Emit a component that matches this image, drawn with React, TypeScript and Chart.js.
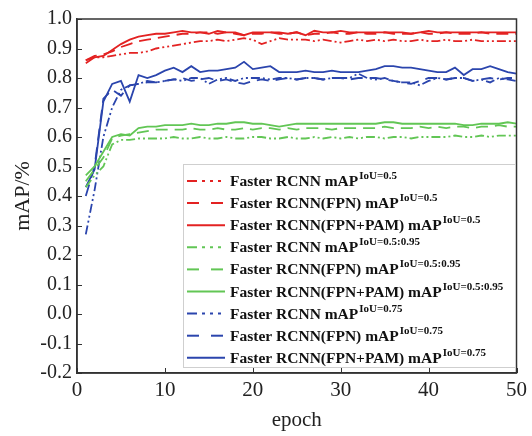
import React, { useEffect, useRef } from 'react';
import { Chart, registerables } from 'chart.js';

Chart.register(...registerables);

const epochs = [1, 2, 3, 4, 5, 6, 7, 8, 9, 10, 11, 12, 13, 14, 15, 16, 17, 18, 19, 20, 21, 22, 23, 24, 25, 26, 27, 28, 29, 30, 31, 32, 33, 34, 35, 36, 37, 38, 39, 40, 41, 42, 43, 44, 45, 46, 47, 48, 49, 50];

const redDashDot = [0.86, 0.87, 0.87, 0.875, 0.88, 0.885, 0.885, 0.89, 0.9, 0.905, 0.91, 0.915, 0.92, 0.925, 0.925, 0.93, 0.925, 0.93, 0.935, 0.93, 0.915, 0.925, 0.935, 0.93, 0.93, 0.93, 0.925, 0.93, 0.925, 0.92, 0.925, 0.93, 0.925, 0.93, 0.925, 0.93, 0.925, 0.925, 0.93, 0.925, 0.925, 0.93, 0.925, 0.925, 0.93, 0.925, 0.925, 0.925, 0.925, 0.925];
const redDashed = [0.86, 0.875, 0.88, 0.89, 0.905, 0.915, 0.925, 0.93, 0.935, 0.94, 0.945, 0.95, 0.95, 0.955, 0.955, 0.95, 0.955, 0.95, 0.945, 0.95, 0.95, 0.955, 0.95, 0.95, 0.955, 0.945, 0.95, 0.95, 0.955, 0.95, 0.95, 0.955, 0.95, 0.95, 0.955, 0.95, 0.95, 0.95, 0.955, 0.95, 0.95, 0.955, 0.95, 0.95, 0.95, 0.955, 0.95, 0.95, 0.95, 0.95];
const redSolid = [0.85, 0.87, 0.875, 0.895, 0.915, 0.93, 0.94, 0.945, 0.95, 0.95, 0.955, 0.96, 0.955, 0.955, 0.95, 0.96, 0.955, 0.955, 0.945, 0.955, 0.955, 0.955, 0.955, 0.95, 0.955, 0.945, 0.96, 0.955, 0.955, 0.96, 0.955, 0.955, 0.955, 0.955, 0.955, 0.955, 0.955, 0.95, 0.955, 0.96, 0.955, 0.955, 0.955, 0.955, 0.955, 0.955, 0.955, 0.955, 0.955, 0.955];

const greenDashDot = [0.43, 0.47, 0.5, 0.575, 0.59, 0.59, 0.595, 0.595, 0.595, 0.595, 0.6, 0.595, 0.595, 0.6, 0.595, 0.595, 0.6, 0.595, 0.595, 0.6, 0.6, 0.595, 0.595, 0.6, 0.595, 0.595, 0.6, 0.595, 0.6, 0.595, 0.6, 0.595, 0.6, 0.6, 0.595, 0.6, 0.6, 0.595, 0.6, 0.6, 0.6, 0.6, 0.605, 0.6, 0.6, 0.605, 0.6, 0.605, 0.605, 0.605];
const greenDashed = [0.45, 0.49, 0.53, 0.595, 0.605, 0.61, 0.615, 0.62, 0.625, 0.625, 0.625, 0.625, 0.63, 0.625, 0.625, 0.63, 0.625, 0.625, 0.63, 0.625, 0.63, 0.63, 0.625, 0.63, 0.625, 0.63, 0.63, 0.63, 0.625, 0.63, 0.63, 0.63, 0.63, 0.63, 0.635, 0.63, 0.63, 0.63, 0.635, 0.63, 0.635, 0.63, 0.635, 0.635, 0.63, 0.635, 0.635, 0.64, 0.635, 0.635];
const greenSolid = [0.47, 0.5, 0.55, 0.6, 0.61, 0.605, 0.63, 0.635, 0.635, 0.64, 0.64, 0.64, 0.645, 0.64, 0.64, 0.645, 0.645, 0.65, 0.65, 0.645, 0.645, 0.64, 0.635, 0.64, 0.645, 0.645, 0.645, 0.645, 0.645, 0.645, 0.645, 0.645, 0.645, 0.645, 0.65, 0.65, 0.645, 0.645, 0.645, 0.645, 0.645, 0.645, 0.645, 0.64, 0.64, 0.645, 0.645, 0.645, 0.65, 0.645];

const blueDashDot = [0.27, 0.42, 0.6, 0.7, 0.76, 0.775, 0.78, 0.79, 0.785, 0.79, 0.795, 0.79, 0.8, 0.8, 0.78, 0.795, 0.8, 0.79, 0.8, 0.8, 0.8, 0.795, 0.8, 0.8, 0.795, 0.8, 0.8, 0.795, 0.8, 0.8, 0.8, 0.815, 0.8, 0.795, 0.8, 0.79, 0.785, 0.785, 0.775, 0.79, 0.8, 0.795, 0.8, 0.8, 0.79, 0.795, 0.785, 0.8, 0.795, 0.79];
const blueDashed = [0.4, 0.5, 0.73, 0.76, 0.74, 0.775, 0.78, 0.785, 0.785, 0.79, 0.795, 0.8, 0.79, 0.795, 0.8, 0.79, 0.795, 0.785, 0.78, 0.79, 0.795, 0.79, 0.795, 0.8, 0.795, 0.8, 0.8, 0.795, 0.8, 0.8, 0.795, 0.8, 0.8, 0.8, 0.795, 0.79, 0.785, 0.78, 0.79, 0.8, 0.8, 0.795, 0.8, 0.8, 0.79, 0.795, 0.8, 0.795, 0.8, 0.8];
const blueSolid = [0.43, 0.49, 0.72, 0.78, 0.79, 0.72, 0.81, 0.8, 0.81, 0.825, 0.835, 0.82, 0.84, 0.82, 0.825, 0.825, 0.83, 0.835, 0.855, 0.83, 0.835, 0.84, 0.82, 0.82, 0.82, 0.825, 0.82, 0.82, 0.825, 0.82, 0.82, 0.82, 0.825, 0.83, 0.84, 0.84, 0.835, 0.835, 0.83, 0.825, 0.82, 0.82, 0.835, 0.81, 0.83, 0.83, 0.84, 0.83, 0.82, 0.815];

const seriesNames = [
  'Faster RCNN mAP',
  'Faster RCNN(FPN) mAP',
  'Faster RCNN(FPN+PAM) mAP',
  'Faster RCNN mAP',
  'Faster RCNN(FPN) mAP',
  'Faster RCNN(FPN+PAM) mAP',
  'Faster RCNN mAP',
  'Faster RCNN(FPN) mAP',
  'Faster RCNN(FPN+PAM) mAP',
];
const seriesSups = ['IoU=0.5', 'IoU=0.5', 'IoU=0.5', 'IoU=0.5:0.95', 'IoU=0.5:0.95', 'IoU=0.5:0.95', 'IoU=0.75', 'IoU=0.75', 'IoU=0.75'];
const seriesValues = [redDashDot, redDashed, redSolid, greenDashDot, greenDashed, greenSolid, blueDashDot, blueDashed, blueSolid];

const xTicks = [0, 10, 20, 30, 40, 50];
const yMin = -0.2;
const yMax = 1.0;

const RED = '#e32222';
const GREEN = '#62c655';
const BLUE = '#2b45ad';
const colors = [RED, RED, RED, GREEN, GREEN, GREEN, BLUE, BLUE, BLUE];
const DASHDOT = [9, 3, 2, 3, 2, 3];
const DASHED = [12, 7];
const plotDashes = [DASHDOT, DASHED, [], DASHDOT, DASHED, [], DASHDOT, DASHED, []];
const LDASHDOT = [10, 5, 3, 5, 3, 5, 3, 5];
const legendDashes = [LDASHDOT, [12, 12], [], LDASHDOT, [12, 12], [], LDASHDOT, [12, 12], []];

const SERIF = "'Liberation Serif', 'Times New Roman', Times, serif";

const framePlugin = {
  id: 'frameAndLegend',
  afterDraw(chart: any) {
    const { ctx, chartArea: a, scales } = chart;
    ctx.save();
    ctx.strokeStyle = '#333';
    ctx.lineWidth = 1;
    ctx.beginPath();
    scales.y.ticks.forEach((t: any) => {
      const y = Math.round(scales.y.getPixelForValue(t.value)) + 0.5;
      ctx.moveTo(a.left, y);
      ctx.lineTo(a.left + 5, y);
    });
    scales.x.ticks.forEach((t: any) => {
      const x = Math.round(scales.x.getPixelForValue(t.value)) + 0.5;
      ctx.moveTo(x, a.bottom);
      ctx.lineTo(x, a.bottom - 5);
    });
    ctx.stroke();
    ctx.lineWidth = 1.5;
    ctx.strokeRect(a.left, a.top, a.right - a.left, a.bottom - a.top);

    const bx = 183, by = 164, bw = 332, bh = 203;
    ctx.fillStyle = '#fff';
    ctx.fillRect(bx, by, bw, bh);
    ctx.strokeStyle = '#cfcfcf';
    ctx.lineWidth = 1;
    ctx.strokeRect(bx + 0.5, by + 0.5, bw, bh);
    chart.data.datasets.forEach((ds: any, i: number) => {
      const cy = 181 + i * 22.1;
      ctx.strokeStyle = ds.borderColor;
      ctx.lineWidth = 2;
      ctx.setLineDash(legendDashes[i]);
      ctx.beginPath();
      ctx.moveTo(187, cy);
      ctx.lineTo(225, cy);
      ctx.stroke();
      ctx.setLineDash([]);
      ctx.fillStyle = '#111';
      ctx.textBaseline = 'alphabetic';
      ctx.textAlign = 'left';
      ctx.font = `bold 15.5px ${SERIF}`;
      const base = cy + 5;
      ctx.fillText(seriesNames[i], 230, base);
      const w = ctx.measureText(seriesNames[i]).width;
      ctx.font = `bold 11px ${SERIF}`;
      ctx.fillText(seriesSups[i], 230 + w + 1, base - 7);
    });
    ctx.restore();
  },
};

export default function App() {
  const ref = useRef<HTMLCanvasElement>(null);
  useEffect(() => {
    const canvas = ref.current;
    if (!canvas) return;
    const datasets = seriesValues.map((vals, i) => ({
      label: seriesNames[i] + seriesSups[i],
      data: epochs.map((e, j) => ({ x: e, y: vals[j] })),
      borderColor: colors[i],
      backgroundColor: colors[i],
      borderDash: plotDashes[i],
      borderWidth: 1.8,
      pointRadius: 0,
      tension: 0,
      fill: false,
    }));
    const chart = new Chart(canvas, {
      type: 'line',
      data: { datasets },
      options: {
        animation: false,
        responsive: false,
        events: [],
        layout: { padding: { top: 19, right: 13, left: 0, bottom: 0 } },
        plugins: { legend: { display: false }, tooltip: { enabled: false } },
        scales: {
          x: {
            type: 'linear',
            min: 0,
            max: 50,
            afterFit: (s: any) => { s.height = 63; },
            afterBuildTicks: (s: any) => { s.ticks = xTicks.map((v) => ({ value: v })); },
            ticks: {
              padding: 5,
              color: '#222',
              font: { family: SERIF, size: 21 },
              callback: (v: any) => String(v),
            },
            grid: { display: true, drawOnChartArea: false, drawTicks: false },
            border: { display: true, color: '#333', width: 1.5 },
            title: {
              display: true,
              text: 'epoch',
              color: '#222',
              font: { family: SERIF, size: 21 },
              padding: { top: 0, bottom: 3 },
            },
          },
          y: {
            type: 'linear',
            min: yMin,
            max: yMax,
            afterFit: (s: any) => { s.width = 77; },
            ticks: {
              stepSize: 0.1,
              padding: 5,
              color: '#222',
              font: { family: SERIF, size: 20 },
              callback: (v: any) => (Math.abs(Number(v)) < 1e-9 ? '0.0' : Number(v).toFixed(1)),
            },
            grid: { display: true, drawOnChartArea: false, drawTicks: false },
            border: { display: true, color: '#333', width: 1.5 },
            title: {
              display: true,
              text: 'mAP/%',
              color: '#222',
              font: { family: SERIF, size: 22 },
              padding: { top: 10, bottom: 0 },
            },
          },
        },
      },
      plugins: [framePlugin],
    });
    return () => chart.destroy();
  }, []);
  return (
    <div style={{ position: 'fixed', left: 0, top: 0, width: 532, height: 436, background: '#fff' }}>
      <canvas ref={ref} width={532} height={436} style={{ display: 'block' }} />
    </div>
  );
}
